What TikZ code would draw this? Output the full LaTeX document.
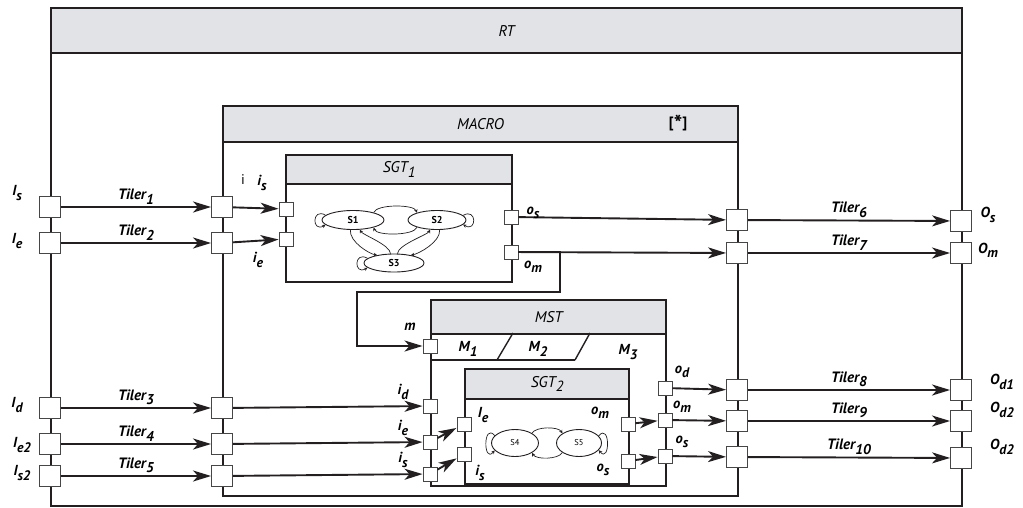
\documentclass[tikz,border=0pt]{standalone}
\usepackage{fontspec}
\setmainfont{PT Sans}
\usetikzlibrary{positioning,arrows.meta,shapes.geometric}
\definecolor{bargray}{RGB}{226,227,230}
\definecolor{edgegray}{RGB}{35,31,32}
\newcommand{\lo}[1]{\raisebox{-0.6ex}{\scalebox{0.95}{#1}}}

\begin{document}
\begin{tikzpicture}[x=1pt, y=-1pt,
    box/.style={rectangle, draw=edgegray, line width=2.2pt, anchor=north west, inner sep=0pt},
    bar/.style={box, fill=bargray, font=\fontsize{15.5}{15}\selectfont\itshape},
    bigport/.style={rectangle, draw=gray!55!black, fill=white, line width=0.9pt, minimum size=21pt, inner sep=0pt},
    smallport/.style={bigport, minimum size=14pt},
    arrow/.style={-{Stealth[length=18pt, width=11pt, inset=5pt]}, line width=1.9pt, draw=edgegray},
    tiler/.style={font=\fontsize{15}{15}\selectfont\bfseries\itshape, inner sep=2pt},
    plabel/.style={font=\fontsize{14.5}{15}\selectfont\bfseries\itshape, inner sep=0pt},
    state/.style={ellipse, draw=edgegray, line width=0.9pt, inner sep=0pt, font=\fontsize{10}{10}\selectfont\bfseries},
    trans/.style={-{Stealth[length=3.5pt, width=3.5pt]}, line width=0.7pt, draw=edgegray},
]
\useasboundingbox (0,0) rectangle (1023,507);

% ---- containers: box + grey title bar ----
\node[box, minimum width=911pt, minimum height=498pt] (rt) at (50,7) {};
\node[bar, minimum width=911pt, minimum height=45pt] (rtbar) at (50,7) {RT};
\node[box, minimum width=515pt, minimum height=390pt] (macro) at (222,105) {};
\node[bar, minimum width=515pt, minimum height=36pt] (macrobar) at (222,105) {MACRO\hspace{12pt}};
\node[font=\fontsize{15}{15}\selectfont\bfseries] (star) at (678,123) {[\raisebox{-0.55ex}{\scalebox{1.5}{*}}]};
\node[box, minimum width=226pt, minimum height=127pt] (sgt1) at (285,154) {};
\node[bar, minimum width=226pt, minimum height=29pt] (sgt1bar) at (285,154) {SGT\lo{1}};
\node[box, minimum width=235pt, minimum height=186pt] (mst) at (430,299) {};
\node[bar, minimum width=235pt, minimum height=34pt] (mstbar) at (430,299) {MST};
\node[box, minimum width=164pt, minimum height=115pt] (sgt2) at (464,368) {};
\node[bar, minimum width=164pt, minimum height=30pt] (sgt2bar) at (464,368) {SGT\lo{2}};

% ---- MST modes M1 / M2 / M3 ----
\draw[edgegray, line width=1.4pt] (430,360) -- (575,360);
\draw[edgegray, line width=1.4pt] (513,333) -- (497,360);
\draw[edgegray, line width=1.4pt] (590,333) -- (575,360);
\node[plabel] (m1) at (468,349) {M\lo{1}};
\node[plabel] (m2) at (538,349) {M\lo{2}};
\node[plabel] (m3) at (628,352) {M\lo{3}};

% ---- states of SGT1 ----
\node[state, minimum width=62pt, minimum height=19pt] (s1) at (353,220) {S1};
\node[state, minimum width=58pt, minimum height=19pt] (s2) at (437,220) {S2};
\node[state, minimum width=60pt, minimum height=18pt] (s3) at (394,263) {S3};
\draw[trans] (s1.20) .. controls +(70:9pt) and +(110:9pt) .. (s2.160);
\draw[trans] (s2.200) .. controls +(-110:9pt) and +(-70:9pt) .. (s1.340);
\draw[trans] (s1.255) .. controls +(-95:12pt) and +(170:8pt) .. (s3.155);
\draw[trans] (s3.110) .. controls +(95:9pt) and +(-60:6pt) .. (s1.305);
\draw[trans] (s3.70) .. controls +(85:9pt) and +(-120:6pt) .. (s2.235);
\draw[trans] (s2.285) .. controls +(-85:12pt) and +(10:8pt) .. (s3.25);
\draw[trans] (s1.170) .. controls +(150:16pt) and +(210:16pt) .. (s1.190);
\draw[trans] (s2.10) .. controls +(30:16pt) and +(-30:16pt) .. (s2.350);
\draw[trans] (s3.170) .. controls +(150:16pt) and +(210:16pt) .. (s3.190);

% ---- states of SGT2 ----
\node[state, minimum width=47pt, minimum height=27pt, font=\fontsize{8.5}{8}\selectfont] (s4) at (515,443) {S4};
\node[state, minimum width=45pt, minimum height=27pt, font=\fontsize{8.5}{8}\selectfont] (s5) at (579,443) {S5};
\draw[trans] (s4.30) .. controls +(60:8pt) and +(120:8pt) .. (s5.150);
\draw[trans] (s5.210) .. controls +(-120:8pt) and +(-60:8pt) .. (s4.330);
\draw[trans] (s4.160) .. controls +(130:18pt) and +(230:18pt) .. (s4.200);
\draw[trans] (s5.20) .. controls +(50:18pt) and +(-50:18pt) .. (s5.340);

% ---- ports ----
\foreach \n/\y in {lIs/207, lIe/243, lId/408, lIe2/444, lIs2/476}
  \node[bigport] (\n) at (50,\y) {};
\foreach \n/\y in {mi1/207, mi2/243, mi3/408, mi4/444, mi5/476}
  \node[bigport] (\n) at (222,\y) {};
\foreach \n/\y in {mo1/220, mo2/253, mo3/390, mo4/421, mo5/457}
  \node[bigport] (\n) at (737,\y) {};
\foreach \n/\y in {rOs/221, rOm/253, rOd1/390, rOd2/421, rOd3/458}
  \node[bigport] (\n) at (961,\y) {};
\node[smallport] (gis) at (286,209) {};
\node[smallport] (gie) at (286,239) {};
\node[smallport] (gos) at (511,217) {};
\node[smallport] (gom) at (511,252) {};
\foreach \n/\y in {tm/346, tid/406, tie/442, tis/474}
  \node[smallport] (\n) at (430,\y) {};
\foreach \n/\y in {tod/388, tom/420, tos/456}
  \node[smallport] (\n) at (665,\y) {};
\node[smallport] (hie) at (464,424) {};
\node[smallport] (his) at (464,454) {};
\node[smallport] (hom) at (628,424) {};
\node[smallport] (hos) at (628,461) {};

% ---- tilers between RT and MACRO ----
\draw[arrow] (lIs) -- node[tiler, above] {Tiler\lo{1}} (mi1);
\draw[arrow] (lIe) -- node[tiler, above] {Tiler\lo{2}} (mi2);
\draw[arrow] (lId) -- node[tiler, above] {Tiler\lo{3}} (mi3);
\draw[arrow] (lIe2) -- node[tiler, above] {Tiler\lo{4}} (mi4);
\draw[arrow] (lIs2) -- node[tiler, above] {Tiler\lo{5}} (mi5);
\draw[arrow] (mo1) -- node[tiler, above] {Tiler\lo{6}} (rOs);
\draw[arrow] (mo2) -- node[tiler, above] {Tiler\lo{7}} (rOm);
\draw[arrow] (mo3) -- node[tiler, above] {Tiler\lo{8}} (rOd1);
\draw[arrow] (mo4) -- node[tiler, above] {Tiler\lo{9}} (rOd2);
\draw[arrow] (mo5) -- node[tiler, above] {Tiler\lo{10}} (rOd3);

% ---- inside MACRO ----
\draw[arrow] (mi1) -- (gis);
\draw[arrow] (mi2) -- (gie);
\draw[arrow] (mi3) -- (tid);
\draw[arrow] (mi4) -- (tie);
\draw[arrow] (mi5) -- (tis);
\draw[arrow] (tie) -- (hie);
\draw[arrow] (tis) -- (his);
\draw[arrow] (gos) -- (mo1);
\draw[arrow] (gom) -- (mo2);
\coordinate (bendR) at (560,292);
\coordinate (bendL) at (357,292);
\draw[arrow] (gom.east) -| (bendR) -- (bendL) |- (tm.west);
\draw[arrow] (hom) -- (tom);
\draw[arrow] (hos) -- (tos);
\draw[arrow] (tod) -- (mo3);
\draw[arrow] (tom) -- (mo4);
\draw[arrow] (tos) -- (mo5);

% ---- port labels ----
\node[plabel] at (17,193) {I\lo{s}};
\node[plabel] at (17,241) {I\lo{e}};
\node[plabel] at (17,405) {I\lo{d}};
\node[plabel] at (22,445) {I\lo{e2}};
\node[plabel] at (22,473) {I\lo{s2}};
\node[plabel] at (988,215) {O\lo{s}};
\node[plabel] at (988,250) {O\lo{m}};
\node[plabel] at (1002,382) {O\lo{d1}};
\node[plabel] at (1002,410) {O\lo{d2}};
\node[plabel] at (1002,447) {O\lo{d2}};
\node[plabel, font=\fontsize{14}{15}\selectfont] at (243,180) {i};
\node[plabel] at (262,183) {i\lo{s}};
\node[plabel] at (258,260) {i\lo{e}};
\node[plabel] at (533,213) {o\lo{s}};
\node[plabel] at (533,267) {o\lo{m}};
\node[plabel] at (410,327) {m};
\node[plabel] at (403,392) {i\lo{d}};
\node[plabel] at (403,428) {i\lo{e}};
\node[plabel] at (403,460) {i\lo{s}};
\node[plabel] at (483,415) {I\lo{e}};
\node[plabel] at (480,473) {i\lo{s}};
\node[plabel] at (600,413) {o\lo{m}};
\node[plabel] at (603,470) {o\lo{s}};
\node[plabel] at (682,372) {o\lo{d}};
\node[plabel] at (682,407) {o\lo{m}};
\node[plabel] at (682,442) {o\lo{s}};

\end{tikzpicture}
\end{document}
